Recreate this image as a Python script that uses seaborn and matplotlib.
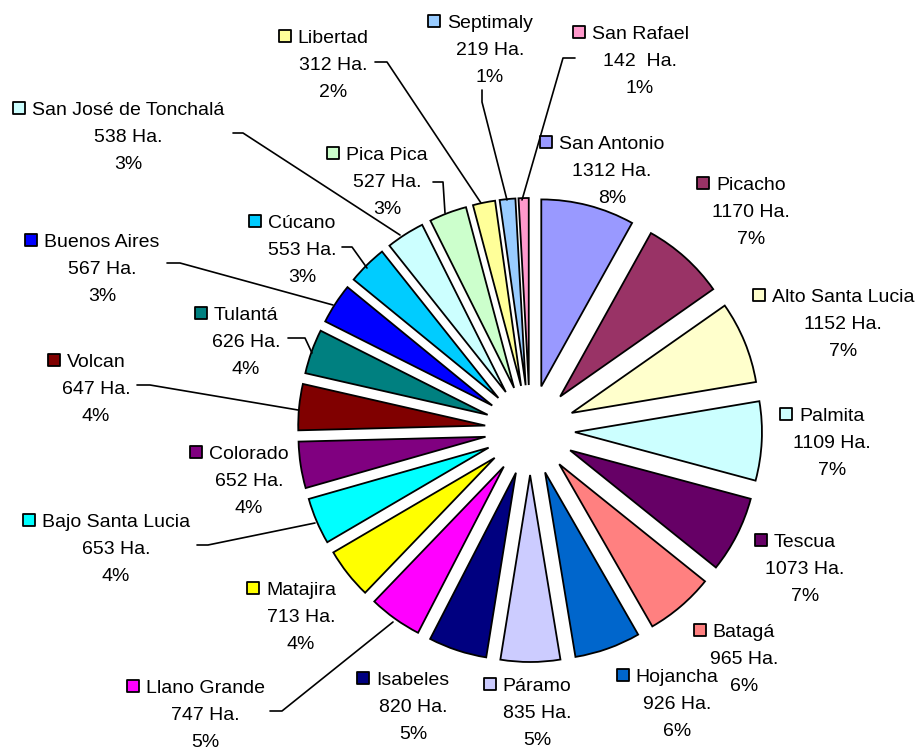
import numpy as np
import matplotlib.pyplot as plt
import seaborn as sns

# Areas per zone (Ha.), clockwise from 12 o'clock
zonas = ["San Antonio", "Picacho", "Alto Santa Lucia", "Palmita", "Tescua", "Batagá",
         "Hojancha", "Páramo", "Isabeles", "Llano Grande", "Matajira", "Bajo Santa Lucia",
         "Colorado", "Volcan", "Tulantá", "Buenos Aires", "Cúcano", "San José de Tonchalá",
         "Pica Pica", "Libertad", "Septimaly", "San Rafael"]
hectareas = [1312, 1170, 1152, 1109, 1073, 965, 926, 835, 820, 747, 713, 653,
             652, 647, 626, 567, 553, 538, 527, 312, 219, 142]
colores = ["#9999FF", "#993366", "#FFFFCC", "#CCFFFF", "#660066", "#FF8080",
           "#0066CC", "#CCCCFF", "#000080", "#FF00FF", "#FFFF00", "#00FFFF",
           "#800080", "#800000", "#008080", "#0000FF", "#00CCFF", "#CCFFFF",
           "#CCFFCC", "#FFFF99", "#99CCFF", "#FF99CC"]

# label placement (pixel centre x, centre y of first line), image coords from top
pos_etiquetas = [(612, 142), (751, 183), (843, 295), (832, 414), (805, 540), (744, 630),
                 (677, 675), (537, 684), (413, 678), (205, 686), (301, 588), (116, 520),
                 (249, 452), (96, 360), (246, 313), (102, 240), (302, 221), (128, 108),
                 (387, 153), (333, 36), (490, 21), (640, 32)]

# leader lines in pixel coords
guias = {
    "Libertad": [(375, 62), (387, 62), (481, 203)],
    "Septimaly": [(482, 90), (482, 102), (507, 200)],
    "San Rafael": [(575, 58), (563, 58), (522, 200)],
    "Pica Pica": [(433, 182), (443, 182), (445, 213)],
    "San José de Tonchalá": [(233, 133), (243, 133), (400, 235)],
    "Cúcano": [(342, 247), (352, 247), (367, 268)],
    "Buenos Aires": [(167, 263), (180, 263), (333, 305)],
    "Tulantá": [(288, 338), (305, 338), (312, 353)],
    "Volcan": [(137, 385), (150, 385), (298, 410)],
    "Bajo Santa Lucia": [(197, 545), (208, 545), (315, 523)],
    "Llano Grande": [(270, 711), (282, 711), (393, 622)],
}

sns.set_theme(style="white")
plt.rcParams['font.family'] = ['Liberation Sans', 'DejaVu Sans']

W, H = 918, 751
fig = plt.figure(figsize=(W / 100, H / 100), dpi=100)
ax = fig.add_axes([0, 0, 1, 1])

# explode is in data units here (pixels), since the radius is in pixels too
ax.pie(hectareas, colors=colores, startangle=90, counterclock=False,
       radius=187, center=(530, H - 430), explode=[45] * len(hectareas),
       wedgeprops=dict(edgecolor="black", linewidth=1.3))
ax.set_xlim(0, W)
ax.set_ylim(0, H)
ax.set_aspect("equal")
ax.axis("off")

total = sum(hectareas)
renderer = fig.canvas.get_renderer()
paso = 27

for zona, ha, col, (px, py) in zip(zonas, hectareas, colores, pos_etiquetas):
    valor = f"{ha}  Ha." if zona == "San Rafael" else f"{ha} Ha."
    pct = f"{round(ha / total * 100)}%"
    t = ax.text(px, H - py - 7, zona, ha="center", va="baseline", fontsize=14, color="black")
    ax.text(px, H - py - paso - 7, valor, ha="center", va="baseline", fontsize=14, color="black")
    ax.text(px, H - py - 2 * paso - 7, pct, ha="center", va="baseline", fontsize=14, color="black")
    bb = t.get_window_extent(renderer=renderer)
    ax.scatter([bb.x0 - 13], [H - py], marker="s", s=80, color=col,
               edgecolor="black", linewidth=1.3, zorder=5)

for zona, pts in guias.items():
    xs = [p[0] for p in pts]
    ys = [H - p[1] for p in pts]
    ax.plot(xs, ys, color="black", linewidth=1.2)

fig.savefig("out.png", dpi=100, facecolor="white")
